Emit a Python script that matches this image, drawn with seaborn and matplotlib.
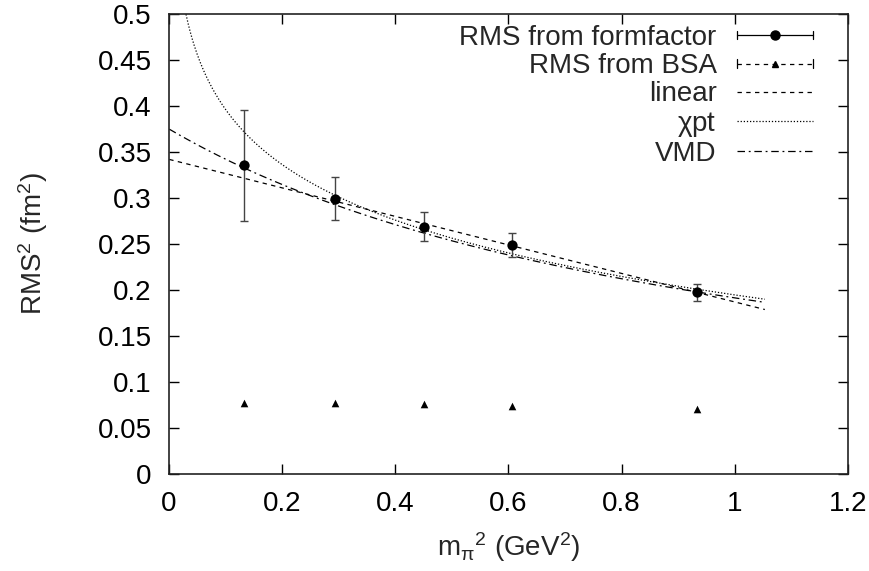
import numpy as np
import pandas as pd
import matplotlib
matplotlib.use("Agg")
import matplotlib.pyplot as plt
import seaborn as sns
from matplotlib.lines import Line2D
from matplotlib.legend_handler import HandlerBase
from matplotlib.ticker import FuncFormatter

# ---------------- data ----------------
mpi2 = [0.133, 0.294, 0.450, 0.607, 0.934]
rms_ff = [0.336, 0.299, 0.269, 0.249, 0.198]
rms_ff_lo = [0.275, 0.276, 0.253, 0.236, 0.188]
rms_ff_hi = [0.396, 0.323, 0.285, 0.262, 0.207]
rms_bsa = [0.077, 0.077, 0.076, 0.074, 0.071]

# fit curves (parameters)
x_fit_max = 1.053
lin_a, lin_b = 0.342, -0.155                      # linear: a + b x
chi_a, chi_b, chi_c = 0.1991, -0.0858, -0.00445   # chi pt: a + b ln x + c x
vmd_r0, vmd_k = 0.375, 0.959                      # VMD: r0 / (1 + k x)

xticks = [0, 0.2, 0.4, 0.6, 0.8, 1.0, 1.2]
yticks = [0, 0.05, 0.1, 0.15, 0.2, 0.25, 0.3, 0.35, 0.4, 0.45, 0.5]

labels = ["RMS from formfactor", "RMS from BSA", "linear", r"$\chi$pt", "VMD"]

# ---------------- style ----------------
sns.set_theme(style="ticks")
plt.rcParams["font.family"] = ["Liberation Sans", "DejaVu Sans"]
plt.rcParams["mathtext.fontset"] = "custom"
plt.rcParams["mathtext.rm"] = "Liberation Sans"
plt.rcParams["mathtext.it"] = "Liberation Sans"
plt.rcParams["mathtext.default"] = "regular"
FS = 20

fig = plt.figure(figsize=(8.7, 5.71), dpi=100)
ax = fig.add_axes([169 / 870, (571 - 474) / 571, (848 - 169) / 870, (474 - 14) / 571])

df = pd.DataFrame({"x": mpi2, "ff": rms_ff, "bsa": rms_bsa})

# fit curves
xs = np.linspace(0.0005, x_fit_max, 600)
curves = pd.DataFrame({
    "x": xs,
    "linear": lin_a + lin_b * xs,
    "chi": chi_a + chi_b * np.log(xs) + chi_c * xs,
    "vmd": vmd_r0 / (1 + vmd_k * xs),
})
lw = 0.9
LS_LIN = (0, (3.5, 3.5))
LS_CHI = (0, (1, 1.5))
LS_VMD = (0, (6, 3, 1.5, 3))
sns.lineplot(data=curves, x="x", y="linear", ax=ax, color="black", lw=lw,
             linestyle=LS_LIN)
sns.lineplot(data=curves, x="x", y="chi", ax=ax, color="black", lw=lw,
             linestyle=LS_CHI)
sns.lineplot(data=curves, x="x", y="vmd", ax=ax, color="black", lw=lw,
             linestyle=LS_VMD)

# error bars + points
yerr = np.array([np.array(rms_ff) - np.array(rms_ff_lo),
                 np.array(rms_ff_hi) - np.array(rms_ff)])
ax.errorbar(mpi2, rms_ff, yerr=yerr, fmt="none", ecolor="#444444",
            elinewidth=1.0, capsize=3, capthick=1.0, zorder=3)
sns.scatterplot(data=df, x="x", y="ff", ax=ax, color="black", s=55,
                marker="o", edgecolor="black", linewidth=0, zorder=4)
sns.scatterplot(data=df, x="x", y="bsa", ax=ax, color="black", s=30,
                marker="^", edgecolor="black", linewidth=0, zorder=4)

ax.set_xlim(0, 1.2)
ax.set_ylim(0, 0.5)
ax.set_xticks(xticks)
ax.set_yticks(yticks)
fmt = FuncFormatter(lambda v, p: "%g" % round(v, 3))
ax.xaxis.set_major_formatter(fmt)
ax.yaxis.set_major_formatter(fmt)
ax.tick_params(direction="in", length=7, width=1, top=True, right=True,
               labelsize=FS, pad=12.5, colors="black")
for s in ax.spines.values():
    s.set_visible(True)
    s.set_linewidth(1.2)
    s.set_color("#222222")
ax.set_xlabel(r"m$_{\pi}$$^{2}$ (GeV$^{2}$)", fontsize=FS, labelpad=9)
ax.set_ylabel(r"RMS$^{2}$ (fm$^{2}$)", fontsize=FS, labelpad=34)


# ---------------- legend in gnuplot style ----------------
class CappedHandler(HandlerBase):
    def __init__(self, marker, msize, ls):
        super().__init__()
        self.marker, self.msize, self.ls = marker, msize, ls

    def create_artists(self, legend, orig_handle, xdescent, ydescent,
                       width, height, fontsize, trans):
        y = height / 2 - ydescent
        x0, x1 = -xdescent, -xdescent + width
        arts = [Line2D([x0, x1], [y, y], color="black", lw=lw, linestyle=self.ls),
                Line2D([x0, x0], [y - 3, y + 3], color="black", lw=lw),
                Line2D([x1, x1], [y - 3, y + 3], color="black", lw=lw),
                Line2D([(x0 + x1) / 2], [y], marker=self.marker, color="black",
                       markersize=self.msize, lw=0)]
        for a in arts:
            a.set_transform(trans)
        return arts


h_ff = Line2D([], [], color="black")
h_bsa = Line2D([], [], color="black")
h_lin = Line2D([], [], color="black", lw=lw, linestyle=LS_LIN)
h_chi = Line2D([], [], color="black", lw=lw, linestyle=LS_CHI)
h_vmd = Line2D([], [], color="black", lw=lw, linestyle=LS_VMD)

ax.legend([h_ff, h_bsa, h_lin, h_chi, h_vmd], labels,
          handler_map={h_ff: CappedHandler("o", 6.5, "-"),
                       h_bsa: CappedHandler("^", 5, LS_LIN)},
          loc="upper right", bbox_to_anchor=((813 - 169) / 679, 1 - 11 / 460),
          frameon=False, markerfirst=False, fontsize=FS, handlelength=2.75,
          handletextpad=0.72, labelspacing=0.08, borderpad=0, borderaxespad=0,
          alignment="right")

fig.savefig("out.png", dpi=100)
